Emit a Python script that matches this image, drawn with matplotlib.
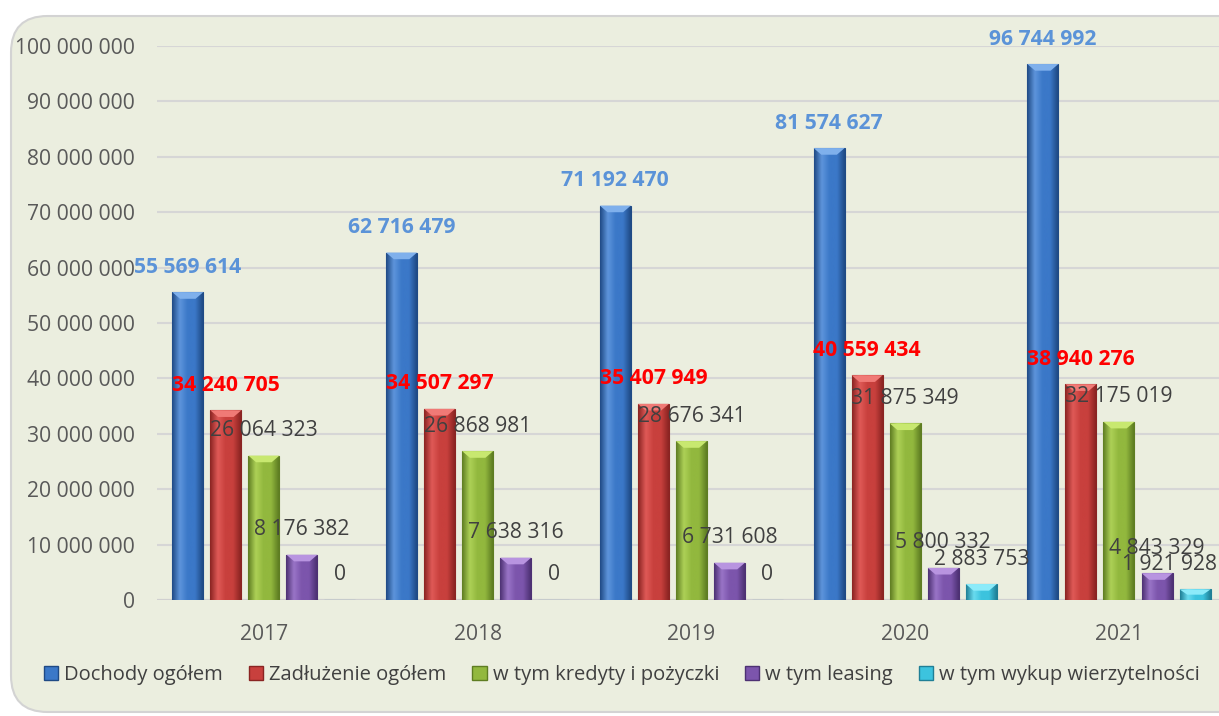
import numpy as np
import matplotlib
matplotlib.use("Agg")
import matplotlib.pyplot as plt
from matplotlib.patches import FancyBboxPatch, Patch
from matplotlib.colors import LinearSegmentedColormap

years = ["2017", "2018", "2019", "2020", "2021"]
series_names = ["Dochody ogółem", "Zadłużenie ogółem", "w tym kredyty i pożyczki",
                "w tym leasing", "w tym wykup wierzytelności"]
dochody = [55569614, 62716479, 71192470, 81574627, 96744992]
zadluzenie = [34240705, 34507297, 35407949, 40559434, 38940276]
kredyty = [26064323, 26868981, 28676341, 31875349, 32175019]
leasing = [8176382, 7638316, 6731608, 5800332, 4843329]
wykup = [0, 0, 0, 2883753, 1921928]
series = [dochody, zadluzenie, kredyty, leasing, wykup]

base_colors = ["#3B78C8", "#C8403D", "#92B83E", "#7C55AC", "#3CC3DE"]
dark_colors = ["#1F4A85", "#8A2422", "#5E7D22", "#4D3173", "#1F7F96"]
light_colors = ["#5E95DC", "#E05A57", "#AED157", "#9A75C8", "#6ADCF0"]
cap_colors = ["#7FB0EC", "#F07A76", "#C8E870", "#B894E0", "#8CEBFA"]
label_colors = ["#5B93D8", "#FF0000", "#404040", "#404040", "#404040"]
label_weights = ["bold", "bold", "normal", "normal", "normal"]

plt.rcParams['font.family'] = ['Open Sans', 'DejaVu Sans']

W, H = 1219, 716
fig = plt.figure(figsize=(W / 100, H / 100), dpi=100)
fig.patch.set_facecolor("white")

bg = FancyBboxPatch((11 / W, 4 / H), 1.2, (700 - 4) / H,
                    boxstyle="round,pad=0,rounding_size=0.03",
                    transform=fig.transFigure, facecolor="#EBEEDF",
                    edgecolor="#D3D3D3", linewidth=1.5, zorder=-5,
                    mutation_aspect=W / H)
fig.patches.append(bg)

ax = fig.add_axes([157 / W, (H - 600) / H, (W - 157) / W, (600 - 46) / H])
ax.set_zorder(2)
ax.set_facecolor("none")
ax.set_xlim(-0.5, 4.468)
ax.set_ylim(0, 1e8)

for s in ax.spines.values():
    s.set_visible(False)
ax.set_yticks(np.arange(0, 1.0e8 + 1, 1e7))
ax.set_yticklabels([f"{int(v):,}".replace(",", " ") for v in np.arange(0, 1.0e8 + 1, 1e7)])
ax.yaxis.grid(True, color="#D6D6D6", linewidth=1.5)
ax.set_axisbelow(True)
ax.tick_params(axis="y", length=0, pad=16, labelsize=15.2, labelcolor="#595959")
ax.tick_params(axis="x", length=0, pad=17, labelsize=15.2, labelcolor="#595959")

x = np.arange(len(years))
pitch = 0.178
width = 0.145
offsets = (np.arange(5) - 2) * pitch

anns = []
for i, vals in enumerate(series):
    cmap = LinearSegmentedColormap.from_list(
        f"c{i}", [dark_colors[i], light_colors[i], base_colors[i], base_colors[i], dark_colors[i]])
    bars = ax.bar(x + offsets[i], vals, width=width, color=base_colors[i],
                  edgecolor=dark_colors[i], linewidth=0.8, zorder=2)
    grad = np.linspace(0, 1, 64).reshape(1, -1)
    for b, v in zip(bars, vals):
        if v <= 0:
            continue
        bx, by, bw, bh = b.get_x(), b.get_y(), b.get_width(), b.get_height()
        im = ax.imshow(grad, cmap=cmap, extent=[bx, bx + bw, by, by + bh],
                       aspect="auto", zorder=2.5, interpolation="bicubic")
        im.set_clip_path(b)
        cap_h = min(bh * 0.5, 1.2e6)
        ax.fill([bx, bx + bw, bx + bw * 0.75, bx + bw * 0.25],
                [by + bh, by + bh, by + bh - cap_h, by + bh - cap_h],
                color=cap_colors[i], zorder=2.6, linewidth=0)
    for xi, v in zip(x + offsets[i], vals):
        a = ax.annotate(f"{v:,}".replace(",", " "), (xi, v), xytext=(0, 18),
                        textcoords="offset points", ha="center", va="center",
                        fontsize=15.2, color=label_colors[i],
                        fontweight=label_weights[i], zorder=5, annotation_clip=False)
        anns.append(a)

ax.set_xticks(x)
ax.set_xticklabels(years)
ax.axhline(0, color="#D0D0D0", linewidth=1.5, zorder=1)

handles = [Patch(facecolor=base_colors[i], edgecolor=dark_colors[i]) for i in range(5)]
fig.legend(handles, series_names, loc="center", bbox_to_anchor=(622 / W, 1 - 675 / H),
           ncol=5, frameon=False, fontsize=14.5, handlelength=0.7, handleheight=0.7,
           handletextpad=0.3, columnspacing=1.3, labelcolor="#404040")

# keep labels inside the figure (as the reference does)
fig.canvas.draw()
renderer = fig.canvas.get_renderer()
for a in anns:
    bb = a.get_window_extent(renderer)
    if bb.x1 > W - 2:
        shift_pt = (bb.x1 - (W - 2)) * 72 / 100
        a.xyann = (a.xyann[0] - shift_pt, a.xyann[1])

fig.savefig("out.png", dpi=100, facecolor="white")
